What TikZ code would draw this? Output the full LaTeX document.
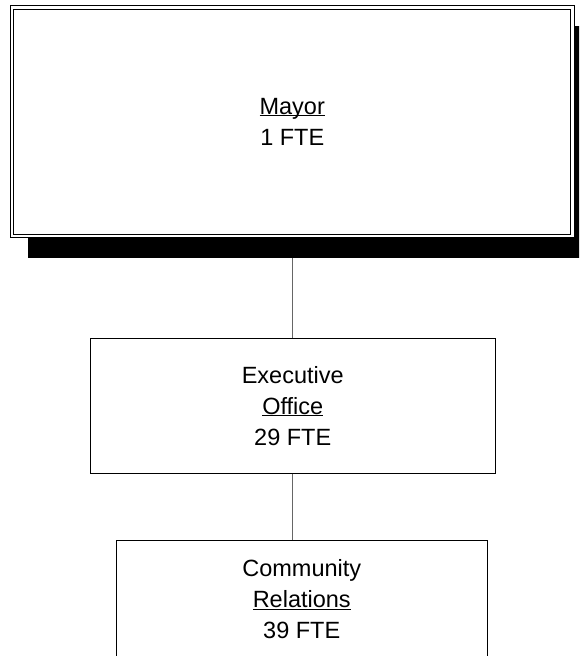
\documentclass[tikz,border=0pt]{standalone}
\usepackage{fontspec}
\setmainfont{Liberation Sans}
\newcommand\myul[1]{\setbox0\hbox{#1}\rlap{\rule[-2.2pt]{\wd0}{1pt}}\box0}
\tikzset{
  txt/.style={font=\fontsize{23.5}{31}\selectfont, align=center, inner sep=0pt},
  mayorbox/.style={txt, draw=black, line width=1pt, double=white, double distance=2.4pt,
                   fill=white, minimum width=560.5pt, minimum height=228.7pt},
  unitbox/.style={txt, draw=black, line width=1pt, fill=white},
  shadowfill/.style={fill=black, draw=none},
  link/.style={draw=black!60, line width=1pt}
}
\begin{document}
\begin{tikzpicture}[x=1pt,y=-1pt]
\clip (0,0) rectangle (579,656);
\fill[white] (0,0) rectangle (579,656);
\coordinate (mc) at (292.25,121.65);
\node[unitbox, minimum width=405.5pt, minimum height=135.3pt] (exec) at (292.75,405.65)
  {Executive\\\myul{Office}\\29 FTE};
\node[unitbox, minimum width=370.5pt, minimum height=117.3pt] (comm) at (301.75,599)
  {Community\\\myul{Relations}\\39 FTE};
\draw[link] (292.5,240) -- (exec.north -| 292.5,0);
\draw[link] (exec.south -| 292.5,0) -- (comm.north -| 292.5,0);
\fill[shadowfill] (28,26) rectangle (600,258);
\node[mayorbox] (mayor) at (mc) {\myul{Mayor}\\1 FTE};
\end{tikzpicture}
\end{document}
